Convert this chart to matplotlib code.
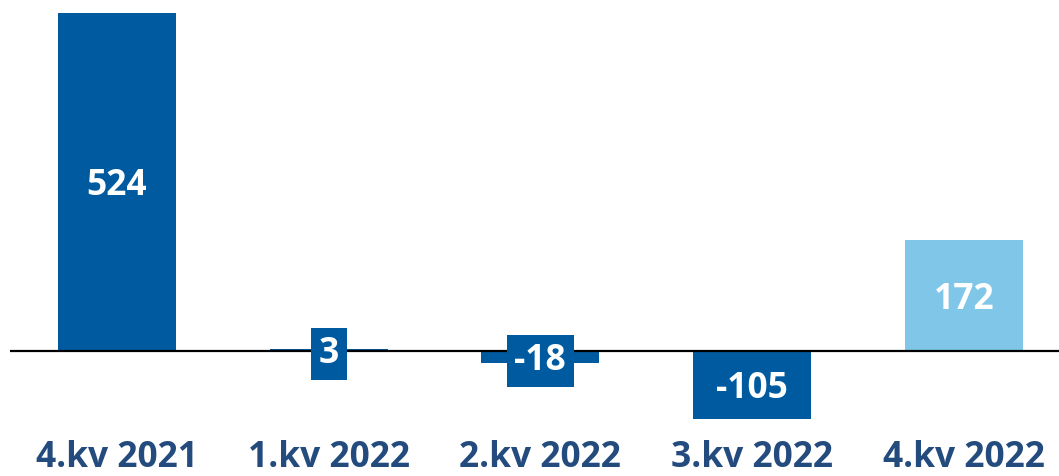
import matplotlib
matplotlib.use("Agg")
import matplotlib.pyplot as plt
from matplotlib.transforms import ScaledTranslation

categories = ["4.kv 2021", "1.kv 2022", "2.kv 2022", "3.kv 2022", "4.kv 2022"]
values = [524, 3, -18, -105, 172]
colors = ["#005AA0", "#005AA0", "#005AA0", "#005AA0", "#80C6E8"]
labels = ["524", "3", "-18", "-105", "172"]

W, H = 1059, 476
fig = plt.figure(figsize=(W / 100, H / 100), dpi=100)
ax = fig.add_axes([10 / W, (H - 419) / H, (1059 - 10) / W, (419 - 13) / H])

x = list(range(len(categories)))
ax.bar(x, values, width=0.557, color=colors, zorder=1)
ax.axhline(0, color="black", lw=1.6, zorder=2)

shift = ax.transData + ScaledTranslation(0, -4 / 100, fig.dpi_scale_trans)
for xi, v, lab, c in zip(x, values, labels, colors):
    ax.text(xi, v / 2, lab, ha="center", va="center", color="white",
            fontsize=25.5, fontweight="bold", family="Open Sans", zorder=3,
            transform=shift,
            bbox=dict(boxstyle="square,pad=0.22", fc=c, ec="none"))

ax.set_xlim(-0.505, 4.45)
ax.set_ylim(-105, 524)
ax.set_xticks(x)
ax.set_xticklabels(categories, fontsize=25.5, fontweight="bold", family="Open Sans",
                   color="#234B7D")
ax.tick_params(axis="x", length=0, pad=15)
ax.set_yticks([])
for s in ax.spines.values():
    s.set_visible(False)

fig.savefig("out.png", dpi=100)
